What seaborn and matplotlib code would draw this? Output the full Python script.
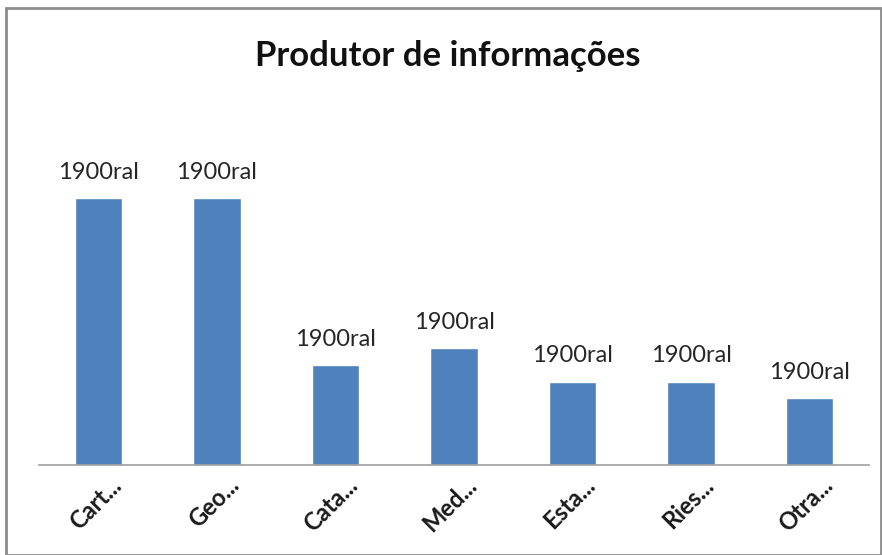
import matplotlib

matplotlib.use("Agg")
import matplotlib.pyplot as plt
import matplotlib.transforms as mtransforms
import pandas as pd
import seaborn as sns
from matplotlib.patches import Rectangle

categories = ["Cart...", "Geo...", "Cata...", "Med...", "Esta...", "Ries...", "Otra..."]
values = [16, 16, 6, 7, 5, 5, 4]
bar_labels = ["1900ral"] * len(categories)
title = "Produtor de informações"

BAR_COLOR = "#4F81BD"

sns.set_theme(style="white")
plt.rcParams["font.family"] = ["Lato", "DejaVu Sans"]

df = pd.DataFrame({"categoria": categories, "valor": values})

fig = plt.figure(figsize=(8.82, 5.55), dpi=100)
ax = fig.add_axes([0.0442, 0.1622, 0.941, 0.6014])

sns.barplot(data=df, x="categoria", y="valor", color=BAR_COLOR, width=0.4,
            saturation=1, ax=ax)

for patch, label in zip(ax.patches, bar_labels):
    ax.annotate(label, (patch.get_x() + patch.get_width() / 2, patch.get_height()),
                xytext=(0, 11), textcoords="offset points", ha="center", va="bottom",
                fontsize=17, color="#262626")

ax.set_ylim(0, 20)
ax.set_xlim(-0.5, len(categories) - 0.5)
ax.set_xlabel("")
ax.set_ylabel("")
ax.set_yticks([])
for side in ["top", "right", "left"]:
    ax.spines[side].set_visible(False)
ax.spines["bottom"].set_color("#A0A0A0")
ax.spines["bottom"].set_linewidth(1.2)
ax.tick_params(axis="x", length=0, pad=12)

# Excel puts the end of the rotated label a bit right of the bar centre
shift = mtransforms.ScaledTranslation(19 / 100, 0, fig.dpi_scale_trans)
for lbl in ax.get_xticklabels():
    lbl.set_rotation(45)
    lbl.set_ha("right")
    lbl.set_va("center")
    lbl.set_rotation_mode("anchor")
    lbl.set_fontsize(17)
    lbl.set_fontweight("bold")
    lbl.set_color("#1a1a1a")
    lbl.set_transform(lbl.get_transform() + shift)

fig.text(0.508, 0.9, title, ha="center", va="center", fontsize=25,
         fontweight="bold", color="#111111")

fig.patches.append(Rectangle((6 / 882, 0), 1 - 6 / 882 - 1 / 882, 1 - 8 / 555,
                             transform=fig.transFigure, fill=False,
                             edgecolor="#8C8C8C", linewidth=2))

fig.savefig("out.png", dpi=100)
